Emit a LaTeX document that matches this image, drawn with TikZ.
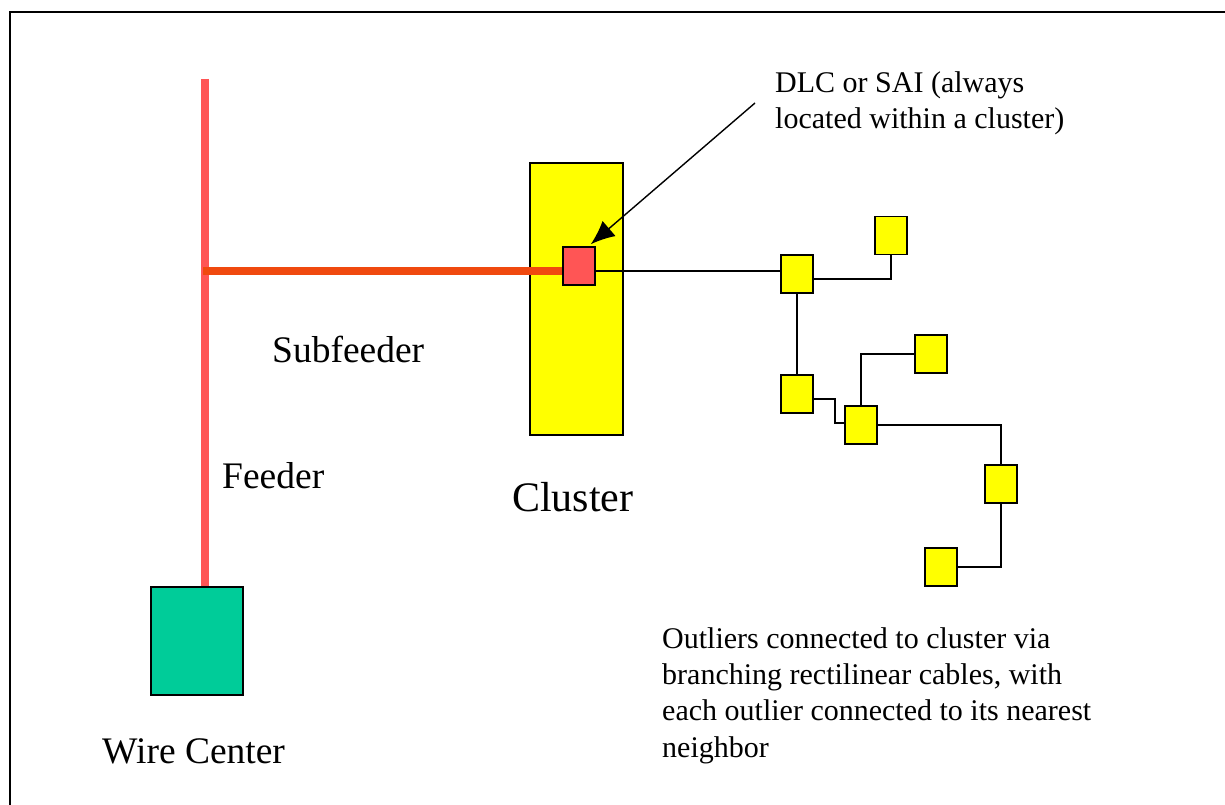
\documentclass[tikz,border=0pt]{standalone}
\usepackage{fontspec}
\setmainfont{Liberation Serif}
\usetikzlibrary{arrows.meta,calc}

\definecolor{feedred}{HTML}{FF5555}
\definecolor{subfeed}{HTML}{F0490F}
\definecolor{wcgreen}{HTML}{00CC99}
\definecolor{clyellow}{HTML}{FFFF00}

\tikzset{
  box/.style={draw=black, line width=1.6pt, rectangle, inner sep=0pt,
              minimum width=32pt, minimum height=38pt},
  outlier/.style={box, fill=clyellow},
  dlcbox/.style={box, fill=feedred},
  cable/.style={draw=black, line width=1.5pt},
  feeder/.style={draw=feedred, line width=8pt},
  subfeeder/.style={draw=subfeed, line width=8pt},
  smalltext/.style={font=\fontsize{30}{36}\selectfont, inner sep=0pt, anchor=base west},
  labeltext/.style={font=\fontsize{37.5}{44}\selectfont, inner sep=0pt, anchor=base west},
  bigtext/.style={font=\fontsize{42}{50}\selectfont, inner sep=0pt, anchor=base west},
}

\begin{document}
\begin{tikzpicture}[x=1pt, y=-1pt]
  \useasboundingbox (0,0) rectangle (1225,805);

  % outer frame (top and left edges)
  \coordinate (frameBL) at (10,805);
  \coordinate (frameTL) at (10,12);
  \coordinate (frameTR) at (1225,12);
  \draw[line width=2pt] (frameBL) -- (frameTL) -- (frameTR);

  % cluster area and wire center
  \node[draw=black, line width=1.8pt, fill=clyellow, rectangle, inner sep=0pt,
        minimum width=93pt, minimum height=272pt] (cluster) at (576.5,299) {};
  \node[draw=black, line width=1.8pt, fill=wcgreen, rectangle, inner sep=0pt,
        minimum width=92pt, minimum height=108pt] (wc) at (197,641) {};

  % feeder and subfeeder
  \coordinate (feedtop) at (205,79);
  \coordinate (subfeedstart) at (203,271);
  \node[dlcbox] (dlc) at (579,266) {};
  \draw[feeder] (feedtop) -- (feedtop |- wc.north);
  \draw[subfeeder] (subfeedstart) -- (dlc.west |- subfeedstart);
  \node[dlcbox] at (dlc) {};

  % outliers
  \node[outlier] (b1) at (797,274) {};
  \node[outlier] (b2) at (891,235.5) {};
  \node[outlier] (b3) at (797,394) {};
  \node[outlier] (b4) at (931,354) {};
  \node[outlier] (b5) at (861,425) {};
  \node[outlier] (b6) at (1001,484) {};
  \node[outlier] (b7) at (941,567) {};

  % rectilinear cables
  \draw[cable] (dlc.east |- subfeedstart) -- (b1.west |- subfeedstart);
  \draw[cable] (b1.east |- 0,279) -| (b2.south);
  \draw[cable] (b1.south) -- (b3.north);
  \draw[cable] (b3.east |- 0,399) -- (835,399) -- (835,423) -- (b5.west |- 0,423);
  \draw[cable] (b5.north) |- (b4.west);
  \draw[cable] (b5.east |- 0,425) -| (b6.north);
  \draw[cable] (b6.south) |- (b7.east);

  % callout to the DLC/SAI
  \coordinate (callout) at (755,103);
  \draw[line width=1.4pt, -{Latex[length=24pt,width=20pt]}]
    (callout) -- ([xshift=-5pt,yshift=2pt]dlc.north east);

  % labels
  \node[smalltext] (dlc1) at (775,93) {DLC or SAI (always};
  \node[smalltext] (dlc2) at (775,129) {located within a cluster)};
  \node[labeltext] (lsub) at (272,362) {Subfeeder};
  \node[labeltext] (lfeed) at (222,488) {Feeder};
  \node[bigtext] (lclu) at (512,511) {Cluster};
  \node[labeltext] (lwc) at (102,763) {Wire Center};
  \node[smalltext] (o1) at (662,648) {Outliers connected to cluster via};
  \node[smalltext] (o2) at (662,684) {branching rectilinear cables, with};
  \node[smalltext] (o3) at (662,720) {each outlier connected to its nearest};
  \node[smalltext] (o4) at (662,757) {neighbor};
\end{tikzpicture}
\end{document}
